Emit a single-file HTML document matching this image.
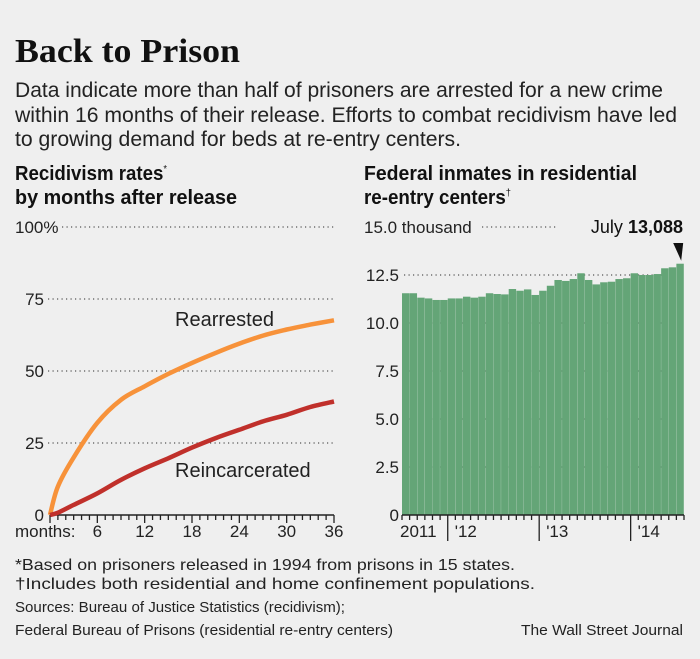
<!DOCTYPE html>
<html><head><meta charset="utf-8"><style>
html,body{margin:0;padding:0;background:#efefef;}
svg{display:block;font-family:"Liberation Sans",sans-serif;}
</style></head><body>
<svg id="c" width="700" height="659" viewBox="0 0 700 659" xmlns="http://www.w3.org/2000/svg">
<rect width="700" height="659" fill="#efefef"/>
<text x="15" y="62" font-family="Liberation Serif,serif" font-weight="bold" font-size="34" textLength="225" lengthAdjust="spacingAndGlyphs" fill="#111">Back to Prison</text>
<g font-size="21" fill="#222">
<text x="15" y="97" textLength="648" lengthAdjust="spacingAndGlyphs">Data indicate more than half of prisoners are arrested for a new crime</text>
<text x="15" y="122" textLength="662" lengthAdjust="spacingAndGlyphs">within 16 months of their release. Efforts to combat recidivism have led</text>
<text x="15" y="146" textLength="446" lengthAdjust="spacingAndGlyphs">to growing demand for beds at re-entry centers.</text>
</g>
<g font-size="20" font-weight="bold" fill="#111">
<text x="15" y="180" textLength="152" lengthAdjust="spacingAndGlyphs">Recidivism rates<tspan font-size="10" dy="-8" font-weight="normal">*</tspan></text>
<text x="15" y="204" textLength="222" lengthAdjust="spacingAndGlyphs">by months after release</text>
<text x="364" y="180" textLength="273" lengthAdjust="spacingAndGlyphs">Federal inmates in residential</text>
<text x="364" y="204" textLength="147" lengthAdjust="spacingAndGlyphs">re-entry centers<tspan font-size="10" dy="-8" font-weight="normal">†</tspan></text>
</g>
<g id="left"></g>
<g id="right"></g>
<g font-size="15" fill="#222">
<text x="15" y="570" font-size="16" textLength="500" lengthAdjust="spacingAndGlyphs">*Based on prisoners released in 1994 from prisons in 15 states.</text>
<text x="15" y="589" font-size="16" textLength="520" lengthAdjust="spacingAndGlyphs">†Includes both residential and home confinement populations.</text>
<text x="15" y="612" textLength="330" lengthAdjust="spacingAndGlyphs">Sources: Bureau of Justice Statistics (recidivism);</text>
<text x="15" y="635" textLength="378" lengthAdjust="spacingAndGlyphs">Federal Bureau of Prisons (residential re-entry centers)</text>
<text x="683" y="635" text-anchor="end" textLength="162" lengthAdjust="spacingAndGlyphs">The Wall Street Journal</text>
</g>
</svg>
<script>
const months = [0,1,3,6,9,12,15,18,21,24,27,30,33,36];
const rearrested = [0,9.9,20,32,40,44.7,49,52.8,56.3,59.5,62.3,64.4,66.1,67.6];
const reincarcerated = [0,0.8,3.5,7.5,12.2,16.2,19.7,23.4,26.7,29.6,32.5,34.8,37.5,39.4];
const leftTicks = [0,25,50,75,100];
const leftTickLabels = ["0","25","50","75","100%"];
const monthLabels = [6,12,18,24,30,36];
const inmates = [11.55,11.55,11.32,11.28,11.2,11.2,11.28,11.28,11.37,11.32,11.37,11.55,11.51,11.49,11.77,11.68,11.75,11.46,11.68,11.94,12.24,12.19,12.29,12.59,12.24,12.01,12.12,12.15,12.29,12.33,12.59,12.5,12.5,12.55,12.85,12.9,13.088];
const rightTicks = [0,2.5,5,7.5,10,12.5,15];
const rightTickLabels = ["0","2.5","5.0","7.5","10.0","12.5","15.0 thousand"];
const yearLabels = ["2011","'12","'13","'14"];

const NS="http://www.w3.org/2000/svg";
function mk(p,tag,a,txt){const e=document.createElementNS(NS,tag);for(const k in a)e.setAttribute(k,a[k]);if(txt!=null)e.textContent=txt;p.appendChild(e);return e;}
// left chart
const L=document.getElementById('left');
const lx=m=>50+m*(284/36), ly=v=>515-v*2.88;
leftTicks.forEach((t,i)=>{
  const lab=mk(L,'text',{x:i==4?15:44,y:ly(t)+6,'font-size':17,fill:'#222','text-anchor':i==4?'start':'end'},leftTickLabels[i]);
  
  
  if(t>0){const g=mk(L,'line',{x1:i==4?62:48,x2:334,y1:ly(t),y2:ly(t),stroke:'#555','stroke-width':1.2,'stroke-dasharray':'1.2 3.3'});
  
  }
});
for(let m=0;m<=36;m++){const tk=mk(L,'line',{x1:lx(m),x2:lx(m),y1:515,y2:m%6==0?523:520,stroke:'#222','stroke-width':1.3});

}
const ax=mk(L,'line',{x1:50,x2:334,y1:515,y2:515,stroke:'#222','stroke-width':1.5});


const ml=mk(L,'text',{x:15,y:537,'font-size':17,fill:'#222'},'months:');


monthLabels.forEach(m=>{const t=mk(L,'text',{x:lx(m),y:537,'font-size':17,fill:'#222','text-anchor':'middle'},String(m));

});
function path(vals){
  const P=vals.map((v,i)=>[lx(months[i]),ly(v)]);
  let d='M'+P[0][0].toFixed(1)+' '+P[0][1].toFixed(1);
  for(let i=0;i<P.length-1;i++){
    const p0=P[Math.max(0,i-1)],p1=P[i],p2=P[i+1],p3=P[Math.min(P.length-1,i+2)];
    const c1=[p1[0]+(p2[0]-p0[0])/6,p1[1]+(p2[1]-p0[1])/6];
    const c2=[p2[0]-(p3[0]-p1[0])/6,p2[1]-(p3[1]-p1[1])/6];
    d+=` C${c1[0].toFixed(1)} ${c1[1].toFixed(1)} ${c2[0].toFixed(1)} ${c2[1].toFixed(1)} ${p2[0].toFixed(1)} ${p2[1].toFixed(1)}`;
  }
  return d;
}
const p1=mk(L,'path',{d:path(rearrested),fill:'none',stroke:'#f7923a','stroke-width':4.5,'stroke-linejoin':'round'});


const p2=mk(L,'path',{d:path(reincarcerated),fill:'none',stroke:'#c0302b','stroke-width':4.5,'stroke-linejoin':'round'});


const t1=mk(L,'text',{x:175,y:326,'font-size':20,fill:'#222'},'Rearrested');


const t2=mk(L,'text',{x:175,y:477,'font-size':20,fill:'#222'},'Reincarcerated');


// right chart
const R=document.getElementById('right');
const x0=402,x1=684,bw=(x1-x0)/inmates.length, ry=v=>515-v*19.2;
inmates.forEach((v,i)=>{const b=mk(R,'rect',{x:x0+i*bw,y:ry(v),width:bw-0.2,height:515-ry(v),fill:'#64a577'});

});
rightTicks.forEach((t,i)=>{
  const last=i==rightTicks.length-1;
  const lab=mk(R,'text',{x:last?364:399,y:ry(t)+6,'font-size':17,fill:'#222','text-anchor':last?'start':'end'},rightTickLabels[i]);
  
  
  if(t>0){const g=mk(R,'line',{x1:last?482:404,x2:last?556:683,y1:ry(t),y2:ry(t),stroke:'#555','stroke-width':1.2,'stroke-dasharray':'1.2 3.3'});
  
  
  if(!last) R.insertBefore(g,R.firstChild);}
});
for(let i=0;i<=inmates.length;i++){const yr=(i-6)%12==0&&i>=6;const tk=mk(R,'line',{x1:x0+i*bw,x2:x0+i*bw,y1:515,y2:yr?541:520,stroke:'#222','stroke-width':1.3});

}
const rax=mk(R,'line',{x1:x0,x2:x1,y1:515,y2:515,stroke:'#222','stroke-width':1.5});


yearLabels.forEach((y,i)=>{const t=mk(R,'text',{x:i==0?400:x0+(6+12*(i-1))*bw+7,y:537,'font-size':17,fill:'#222'},y);

});
const ann=mk(R,'text',{x:683,y:233,'font-size':18,fill:'#111','text-anchor':'end'});


mk(ann,'tspan',{},'July ');
mk(ann,'tspan',{'font-weight':'bold'},inmates[inmates.length-1].toLocaleString('en-US',{minimumFractionDigits:3}).replace('.',','));
const lx2=x0+(inmates.length-0.5)*bw;
const tri=mk(R,'path',{d:`M${lx2-7} 243 L${lx2+3} 243 L${lx2+1} ${ry(inmates[inmates.length-1])-3} Z`,fill:'#111'});


</script>
</body></html>
